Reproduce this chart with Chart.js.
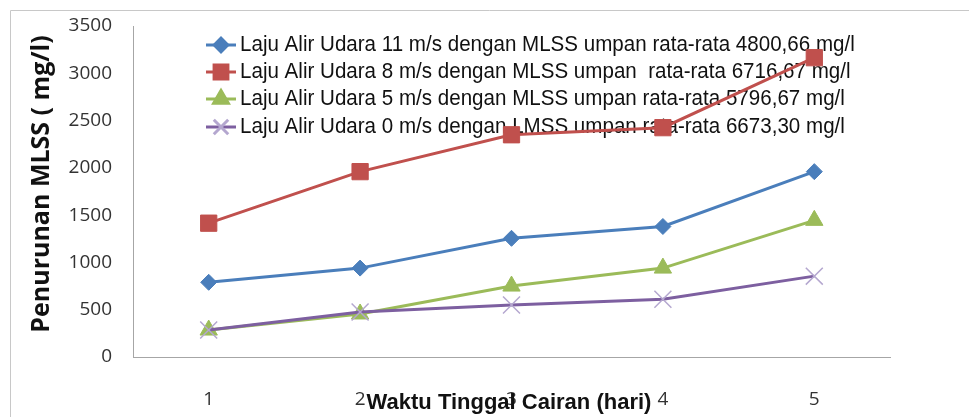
<!DOCTYPE html>
<html><head><meta charset="utf-8">
<script src="https://cdn.jsdelivr.net/npm/chart.js@4"></script>
<style>html,body{margin:0;padding:0;background:#fff}#wrap{width:969px;height:417px;position:relative}</style>
</head><body><div id="wrap"><canvas id="c" width="969" height="417"></canvas></div>
<script>
const categories = ['1','2','3','4','5'];
const seriesLabels = [
  'Laju Alir Udara 11 m/s dengan MLSS umpan rata-rata 4800,66 mg/l',
  'Laju Alir Udara 8 m/s dengan MLSS umpan  rata-rata 6716,67 mg/l',
  'Laju Alir Udara 5 m/s dengan MLSS umpan rata-rata 5796,67 mg/l',
  'Laju Alir Udara 0 m/s dengan LMSS umpan rata-rata 6673,30 mg/l'
];
const udara11 = [790, 940, 1255, 1380, 1960];
const udara8 = [1415, 1960, 2350, 2425, 3165];
const udara5 = [285, 455, 750, 940, 1445];
const udara0 = [285, 475, 550, 610, 855];
const yTitle = 'Penurunan MLSS ( mg/l)';
const xTitle = 'Waktu Tinggal Cairan (hari)';

const colors = ['#4a7ebb', '#c0504d', '#9bbb59', '#7d5fa0'];
const markerColors = ['#4a7ebb', '#c0504d', '#9bbb59', '#b4a7cf'];
const styles = ['rectRot', 'rect', 'triangle', 'crossRot'];
const radii = [8, 11.5, 10, 12];
const values = [udara11, udara8, udara5, udara0];

const datasets = values.map((v, i) => ({
  label: seriesLabels[i], data: v,
  borderColor: colors[i], borderWidth: 3,
  pointStyle: styles[i], pointRadius: radii[i],
  pointBackgroundColor: markerColors[i], pointBorderColor: markerColors[i],
  pointBorderWidth: i === 3 ? 1.5 : 1,
  tension: 0, order: 3 - i
}));

const deco = {
  id: 'deco',
  beforeDatasetsDraw(chart) {
    const ctx = chart.ctx;
    ctx.save();
    // frame
    ctx.strokeStyle = '#c8c8c8'; ctx.lineWidth = 1;
    ctx.beginPath(); ctx.moveTo(10.5, 417); ctx.lineTo(10.5, 10.5); ctx.lineTo(969, 10.5); ctx.stroke();
    // legend
    const rows = [45, 72, 99, 127];
    chart.data.datasets.forEach((ds, i) => {
      const y = rows[i];
      ctx.strokeStyle = colors[i]; ctx.lineWidth = 3;
      ctx.beginPath(); ctx.moveTo(206, y); ctx.lineTo(236, y); ctx.stroke();
      ctx.fillStyle = markerColors[i]; ctx.strokeStyle = markerColors[i];
      Chart.helpers.drawPoint(ctx, {pointStyle: styles[i], radius: radii[i] * 0.85, rotation: 0, borderWidth: 1.5}, 221, y);
      ctx.save();
      ctx.translate(240, y); ctx.scale(0.935, 1);
      ctx.font = '22px "Liberation Sans", sans-serif';
      ctx.textBaseline = 'middle'; ctx.textAlign = 'left';
      ctx.fillStyle = '#111';
      ctx.fillText(ds.label, 0, 0);
      ctx.restore();
    });
    ctx.restore();
  },
  afterDraw(chart) {
    const ctx = chart.ctx;
    ctx.save();
    ctx.fillStyle = '#111';
    ctx.font = 'bold 25px "Open Sans", sans-serif';
    ctx.textAlign = 'center'; ctx.textBaseline = 'middle';
    ctx.translate(42, 184); ctx.rotate(-Math.PI/2);
    ctx.fillText(yTitle, 0, 0);
    ctx.restore();
    ctx.save();
    ctx.fillStyle = '#111';
    ctx.font = 'bold 22px "Liberation Sans", sans-serif';
    ctx.textAlign = 'center'; ctx.textBaseline = 'middle';
    ctx.fillText(xTitle, 509, 403);
    ctx.restore();
  }
};

new Chart(document.getElementById('c'), {
  type: 'line',
  data: { labels: categories, datasets },
  options: {
    responsive: false, animation: false,
    layout: { padding: { left: 0, top: 26, right: 79, bottom: 0 } },
    plugins: { legend: { display: false }, tooltip: { enabled: false } },
    scales: {
      x: {
        offset: true,
        grid: { display: false, drawTicks: false },
        border: { display: true, color: '#a6a6a6', width: 1 },
        ticks: { color: '#333', font: { size: 19, family: '"Open Sans", sans-serif' }, padding: 31 },
        afterFit(s) { s.height = 60; s.paddingLeft = 0; s.paddingRight = 0; }
      },
      y: {
        min: 0, max: 3500,
        grid: { display: false, drawTicks: false },
        border: { display: true, color: '#a6a6a6', width: 1 },
        ticks: { stepSize: 500, color: '#333', font: { size: 19, family: '"Open Sans", sans-serif' }, padding: 21,
                 callback: v => String(v) },
        afterFit(s) { s.width = 133; s.paddingTop = 0; s.paddingBottom = 0; }
      }
    }
  },
  plugins: [deco]
});
</script>
</body></html>
